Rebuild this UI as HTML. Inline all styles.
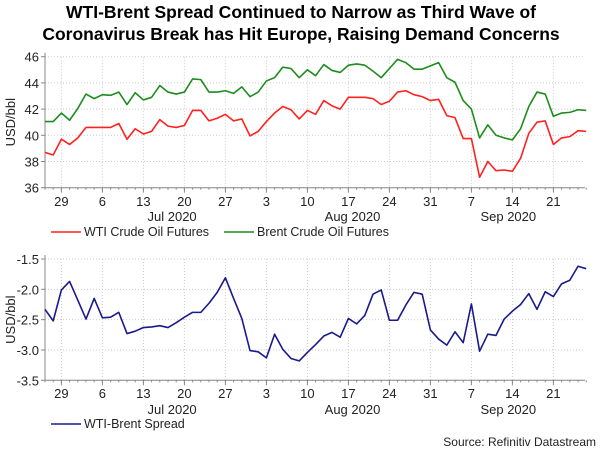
<!DOCTYPE html>
<html><head><meta charset="utf-8"><style>
body{margin:0;background:#fff;width:600px;height:450px;overflow:hidden;font-family:"Liberation Sans",Arial,sans-serif}
svg text{font-family:"Liberation Sans",Arial,sans-serif}
</style></head><body>
<svg id="c" width="600" height="450" viewBox="0 0 600 450">
<text x="301" y="18" text-anchor="middle" font-size="17.5" font-weight="bold" fill="#000">WTI-Brent Spread Continued to Narrow as Third Wave of</text>
<text x="301" y="40" text-anchor="middle" font-size="17.5" font-weight="bold" fill="#000">Coronavirus Break has Hit Europe, Raising Demand Concerns</text>
<g id="top"></g>
<g id="bot"></g>
<text x="596" y="446" text-anchor="end" font-size="12" fill="#222">Source: Refinitiv Datastream</text>
</svg>
<script>
const wti=[38.7,38.5,39.7,39.3,39.8,40.6,40.6,40.6,40.6,40.9,39.7,40.5,40.1,40.3,41.2,40.7,40.6,40.75,41.9,41.9,41.1,41.3,41.6,41.1,41.25,39.95,40.3,41.05,41.7,42.2,41.95,41.25,41.9,41.6,42.65,42.25,42.0,42.9,42.9,42.9,42.8,42.35,42.6,43.3,43.4,43.1,42.95,42.65,42.75,41.5,41.35,39.75,39.75,36.8,38.0,37.3,37.35,37.25,38.25,40.15,41.0,41.1,39.3,39.8,39.9,40.35,40.3];
const brent=[41.05,41.05,41.7,41.15,42.05,43.15,42.8,43.1,43.05,43.3,42.35,43.25,42.7,42.9,43.8,43.3,43.15,43.3,44.3,44.25,43.3,43.3,43.4,43.2,43.7,42.95,43.3,44.15,44.4,45.2,45.1,44.4,45.0,44.55,45.4,44.95,44.8,45.35,45.45,45.35,44.9,44.4,45.1,45.8,45.55,45.05,45.05,45.3,45.55,44.4,44.05,42.65,42.0,39.8,40.8,40.0,39.8,39.65,40.5,42.2,43.3,43.15,41.45,41.7,41.75,41.95,41.9];
const spread=[-2.33,-2.52,-2.01,-1.87,-2.18,-2.49,-2.15,-2.47,-2.46,-2.38,-2.73,-2.69,-2.63,-2.62,-2.60,-2.63,-2.55,-2.46,-2.38,-2.38,-2.23,-2.05,-1.81,-2.15,-2.48,-3.01,-3.03,-3.13,-2.74,-2.99,-3.14,-3.18,-3.04,-2.91,-2.77,-2.71,-2.79,-2.48,-2.57,-2.43,-2.08,-2.01,-2.51,-2.51,-2.26,-2.05,-2.08,-2.67,-2.82,-2.92,-2.70,-2.88,-2.24,-3.02,-2.74,-2.76,-2.49,-2.36,-2.25,-2.07,-2.33,-2.04,-2.12,-1.91,-1.85,-1.62,-1.66];
const weekLabels=["29","6","13","20","27","3","10","17","24","31","7","14","21"];
const monthLabels=["Jul 2020","Aug 2020","Sep 2020"];
const monthPos=[15.5,37.5,56.5];
const topTicks=[36,38,40,42,44,46];
const botTicks=[-3.5,-3.0,-2.5,-2.0,-1.5];
const NS="http://www.w3.org/2000/svg";
const X0=45,DX=8.2;
const xs=i=>X0+i*DX;
function mk(p,t,a){const e=document.createElementNS(NS,t);for(const k in a)e.setAttribute(k,a[k]);p.appendChild(e);return e;}
function panel(g,yTop,yBot,vmin,vmax,ticks,fmt,series,colors,names,legends,legX,legY,tickY,monY,nm){
  const ys=v=>yBot-(v-vmin)/(vmax-vmin)*(yBot-yTop);
  const right=585;
  ticks.forEach(t=>{
    const y=ys(t);
    const gl=mk(g,'line',{x1:X0,x2:right,y1:y,y2:y,stroke:'#ccc','stroke-dasharray':'1,2'});
    
    
    mk(g,'line',{x1:X0-4,x2:X0,y1:y,y2:y,stroke:'#888'});
    const tl=mk(g,'text',{x:X0-6,y:y+5,'text-anchor':'end','font-size':13,fill:'#222'});
    tl.textContent=fmt(t);
    
    
  });
  weekLabels.forEach((w,k)=>{
    const x=xs(2+5*k);
    const gl=mk(g,'line',{x1:x,x2:x,y1:yTop,y2:yBot,stroke:'#ccc','stroke-dasharray':'1,2'});
    
    
    mk(g,'line',{x1:x,x2:x,y1:yBot,y2:yBot+5,stroke:'#888'});
    const tl=mk(g,'text',{x:x,y:tickY,'text-anchor':'middle','font-size':13,fill:'#222'});
    tl.textContent=w;
    
    
  });
  for(let i=0;i<series[0].length;i++){mk(g,'line',{x1:xs(i),x2:xs(i),y1:yBot,y2:yBot+2,stroke:'#888'});}
  monthLabels.forEach((m,k)=>{
    const tl=mk(g,'text',{x:xs(monthPos[k]),y:monY,'text-anchor':'middle','font-size':13,fill:'#222'});
    tl.textContent=m;
    
    
  });
  mk(g,'line',{x1:X0,x2:X0,y1:yTop-4,y2:yBot,stroke:'#888'});
  mk(g,'line',{x1:X0,x2:right,y1:yBot,y2:yBot,stroke:'#888'});
  const at=mk(g,'text',{x:0,y:0,transform:`translate(15,${(yTop+yBot)/2}) rotate(-90)`,'text-anchor':'middle','font-size':13,fill:'#222'});
  at.textContent='USD/bbl';
  
  
  series.forEach((s,j)=>{
    const pl=mk(g,'polyline',{points:s.map((v,i)=>xs(i)+','+ys(v)).join(' '),fill:'none',stroke:colors[j],'stroke-width':1.6,'stroke-linejoin':'round'});
    
    
    mk(g,'line',{x1:legX[j],x2:legX[j]+30,y1:legY-4,y2:legY-4,stroke:colors[j],'stroke-width':1.6});
    const lt=mk(g,'text',{x:legX[j]+33,y:legY,'font-size':12.5,fill:'#222'});
    lt.textContent=legends[j];
    
    
  });
}
panel(document.getElementById('top'),56.7,187.7,36,46,topTicks,v=>v,[wti,brent],['#ff2020','#1e8c1e'],['wti-line','brent-line'],['WTI Crude Oil Futures','Brent Crude Oil Futures'],[51,224],236,206,221,'price');
panel(document.getElementById('bot'),259,380.3,-3.5,-1.5,botTicks,v=>v.toFixed(1),[spread],['#1a1a8c'],['spread-line'],['WTI-Brent Spread'],[51],428,398,414,'spread');
</script>
</body></html>
